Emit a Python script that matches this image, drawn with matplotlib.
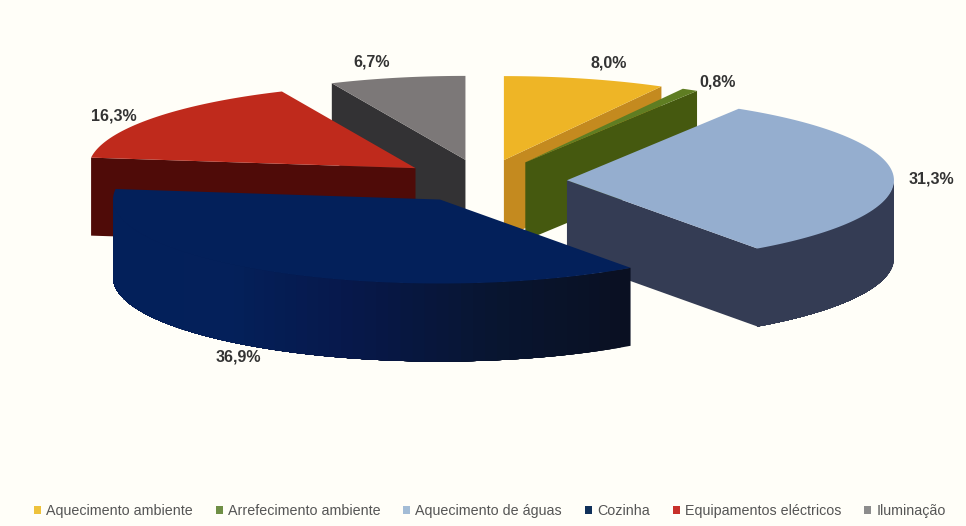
import numpy as np
import matplotlib
matplotlib.use("Agg")
import matplotlib.pyplot as plt
from matplotlib.colors import LinearSegmentedColormap
from matplotlib.patches import Patch

categorias = ["Aquecimento ambiente", "Arrefecimento ambiente", "Aquecimento de águas",
              "Cozinha", "Equipamentos eléctricos", "Iluminação"]
valores = [8.0, 0.8, 31.3, 36.9, 16.3, 6.7]

# aparência de cada fatia
cores_topo = ["#eeb526", "#5f7d22", "#95aecf", "#03205a", "#bf2a1c", "#7c7878"]
cores_face = ["#c48a1f", "#45590f", "#343c54", "#0a1020", "#4f0b08", "#333234"]
cores_lado = [["#c48a1f", "#c48a1f"], ["#45590f", "#45590f"], ["#343c54", "#343c54"],
              ["#0a1022", "#081530", "#07184a", "#04205a", "#03205a", "#03205a"],
              ["#4f0b08", "#4f0b08"], ["#333234", "#333234"]]
cores_legenda = ["#eec23c", "#6f8f45", "#a3bcd6", "#10305a", "#c8302a", "#8c8c8c"]
pos_rotulos = [(609, 63), (718, 82), (931, 179), (238, 357), (114, 116), (372, 62)]

# geometria do disco em pixels
CX, CY = 483, 181
RX, RY = 327, 84
ALTURA = 78
EXPLODE = 84 / 327
ORDEM = [0, 1, 5, 4, 2, 3]  # as fatias da frente tapam as de trás

FUNDO = "#fffef8"


def ponto(ang, r=1.0):
    # ângulo em graus, sentido horário a partir do topo
    a = np.radians(ang)
    return r * RX * np.sin(a), -r * RY * np.cos(a)


fig = plt.figure(figsize=(9.66, 5.26), dpi=100, facecolor=FUNDO)
ax = fig.add_axes([0, 0, 1, 1])
ax.set_xlim(0, 966)
ax.set_ylim(526, 0)
ax.axis("off")

limites = np.concatenate(([0], np.cumsum(valores))) / sum(valores) * 360

for i in ORDEM:
    a0, a1 = limites[i], limites[i + 1]
    meio = (a0 + a1) / 2
    dx, dy = ponto(meio, EXPLODE)
    ox, oy = CX + dx, CY + dy
    base = ORDEM.index(i) * 3

    # faces radiais, só as que estão viradas para a frente
    for ang, normal in ((a0, a0 - 90), (a1, a1 + 90)):
        if np.cos(np.radians(normal)) < -1e-6:
            px, py = ponto(ang)
            ax.fill([ox, ox + px, ox + px, ox], [oy, oy + py, oy + py + ALTURA, oy + ALTURA],
                    color=cores_face[i], lw=0, zorder=base + 1)

    # parede exterior: cada tira vai até ao fim e a seguinte pinta por cima,
    # assim não ficam riscas entre tiras
    ini, fim = max(a0, 90), min(a1, 270)
    if fim > ini:
        cmap = LinearSegmentedColormap.from_list("lado", cores_lado[i])
        angs = np.linspace(ini, fim, 60)
        for k in range(len(angs) - 1):
            resto = angs[k:]
            xs, ys = ponto(resto)
            ax.fill(np.r_[ox + xs, ox + xs[::-1]], np.r_[oy + ys, oy + ys[::-1] + ALTURA],
                    color=cmap(k / (len(angs) - 2)), lw=0, zorder=base + 2)

    # tampo da fatia
    angs = np.linspace(a0, a1, 120)
    xs, ys = ponto(angs)
    ax.fill(np.r_[ox, ox + xs], np.r_[oy, oy + ys], color=cores_topo[i], lw=0, zorder=base + 3)

for v, (x, y) in zip(valores, pos_rotulos):
    ax.text(x, y, f"{v:.1f}%".replace(".", ","), ha="center", va="center", fontsize=11.5,
            fontweight="bold", family="Liberation Sans", color="#333333", zorder=40)

handles = [Patch(facecolor=c, edgecolor="none", label=n) for c, n in zip(cores_legenda, categorias)]
ax.legend(handles=handles, ncol=6, loc="center", bbox_to_anchor=(0.507, 1 - 511 / 526),
          frameon=False, prop={"family": "Liberation Sans", "size": 10.3}, labelcolor="#555555",
          handlelength=0.5, handleheight=0.5, handletextpad=0.35, columnspacing=1.6, borderpad=0)

fig.savefig("out.png", dpi=100, facecolor=FUNDO)
